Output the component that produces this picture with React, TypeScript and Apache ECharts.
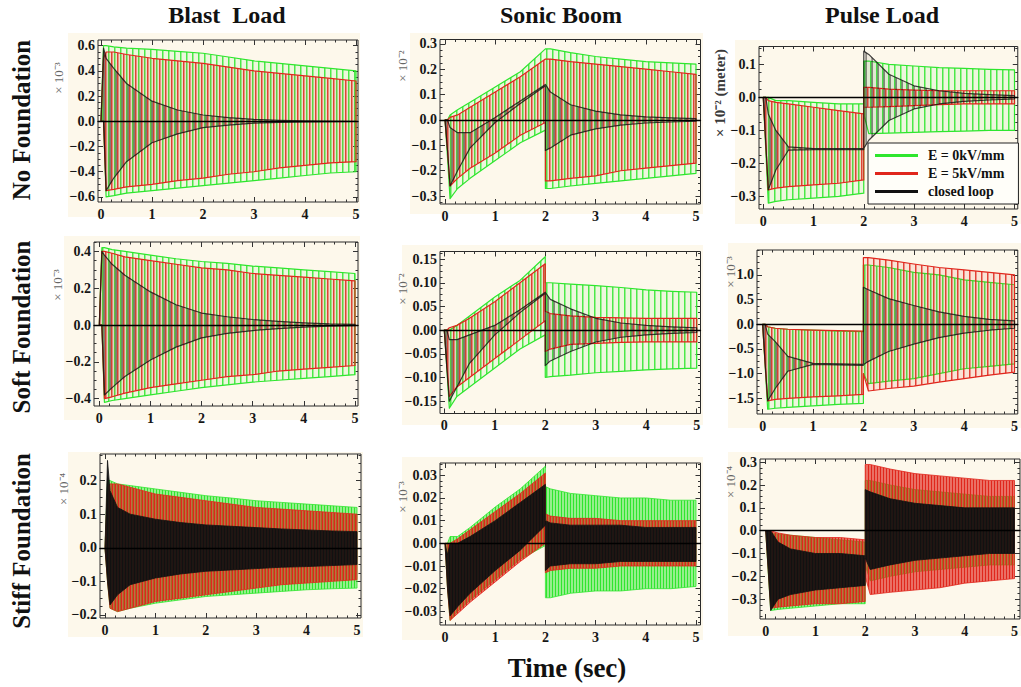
import React, { useEffect, useRef } from 'react';
import * as echarts from 'echarts';

// ---------------- data (amplitudes are envelope peaks) ----------------
const xTickValues = [0, 1, 2, 3, 4, 5];
const timeBlast = [0, 0.05, 0.1, 0.25, 0.5, 1, 1.5, 2, 2.5, 3, 3.5, 4, 4.5, 5];
const timeStep = [0, 0.05, 0.1, 0.25, 0.5, 1, 1.5, 2, 2, 2.1, 2.5, 3, 3.5, 4, 4.5, 5];

// Blast load, no foundation (x 1e-3)
const blastNoGreenHi = [0, 0.6, 0.6, 0.59, 0.58, 0.57, 0.555, 0.54, 0.51, 0.48, 0.46, 0.44, 0.42, 0.4];
const blastNoGreenLo = [0, 0, -0.6, -0.59, -0.57, -0.55, -0.53, -0.51, -0.49, -0.47, -0.45, -0.43, -0.41, -0.4];
const blastNoRedHi = [0, 0.5, 0.55, 0.55, 0.53, 0.5, 0.48, 0.46, 0.43, 0.4, 0.38, 0.36, 0.34, 0.32];
const blastNoRedLo = [0, 0, -0.55, -0.54, -0.52, -0.5, -0.47, -0.45, -0.42, -0.4, -0.37, -0.35, -0.33, -0.32];
const blastNoLoopHi = [0, 0.58, 0.5, 0.42, 0.3, 0.16, 0.09, 0.05, 0.03, 0.015, 0.008, 0.004, 0.002, 0];
const blastNoLoopLo = [0, 0, -0.55, -0.45, -0.32, -0.17, -0.1, -0.05, -0.03, -0.015, -0.008, -0.004, -0.002, 0];

// Blast load, soft foundation (x 1e-3)
const blastSoftGreenHi = [0, 0.42, 0.42, 0.41, 0.4, 0.38, 0.36, 0.345, 0.335, 0.32, 0.31, 0.3, 0.29, 0.28];
const blastSoftGreenLo = [0, 0, -0.42, -0.41, -0.4, -0.38, -0.36, -0.34, -0.325, -0.31, -0.3, -0.29, -0.28, -0.27];
const blastSoftRedHi = [0, 0.4, 0.4, 0.39, 0.37, 0.35, 0.33, 0.31, 0.3, 0.28, 0.27, 0.26, 0.25, 0.24];
const blastSoftRedLo = [0, 0, -0.4, -0.39, -0.37, -0.34, -0.32, -0.3, -0.28, -0.27, -0.25, -0.24, -0.23, -0.22];
const blastSoftLoopHi = [0, 0.4, 0.38, 0.33, 0.27, 0.18, 0.11, 0.065, 0.045, 0.03, 0.02, 0.012, 0.006, 0.004];
const blastSoftLoopLo = [0, 0, -0.38, -0.34, -0.28, -0.19, -0.12, -0.07, -0.045, -0.03, -0.02, -0.012, -0.006, -0.004];

// Blast load, stiff foundation (x 1e-4)
const blastStiffGreenHi = [0, 0.2, 0.2, 0.19, 0.185, 0.175, 0.165, 0.155, 0.148, 0.14, 0.135, 0.13, 0.125, 0.12];
const blastStiffGreenLo = [0, -0.1, -0.18, -0.19, -0.18, -0.165, -0.155, -0.145, -0.14, -0.135, -0.13, -0.125, -0.122, -0.12];
const blastStiffRedHi = [0, 0.18, 0.19, 0.19, 0.18, 0.16, 0.15, 0.14, 0.13, 0.12, 0.115, 0.11, 0.105, 0.1];
const blastStiffRedLo = [0, -0.1, -0.18, -0.19, -0.18, -0.16, -0.15, -0.14, -0.13, -0.12, -0.11, -0.105, -0.1, -0.095];
const blastStiffLoopHi = [0, 0.26, 0.17, 0.12, 0.1, 0.085, 0.075, 0.068, 0.064, 0.06, 0.056, 0.053, 0.05, 0.048];
const blastStiffLoopLo = [0, -0.1, -0.17, -0.14, -0.11, -0.09, -0.078, -0.07, -0.066, -0.062, -0.058, -0.056, -0.053, -0.05];

// Sonic boom, no foundation (x 1e-2)
const sonicNoGreenHi = [0, 0, 0.02, 0.04, 0.07, 0.13, 0.19, 0.28, 0.28, 0.28, 0.265, 0.25, 0.24, 0.23, 0.225, 0.22];
const sonicNoGreenLo = [0, -0.15, -0.31, -0.27, -0.23, -0.16, -0.09, -0.04, -0.27, -0.27, -0.26, -0.25, -0.24, -0.23, -0.22, -0.21];
const sonicNoRedHi = [0, 0, 0.01, 0.02, 0.05, 0.11, 0.17, 0.24, 0.24, 0.24, 0.23, 0.22, 0.21, 0.2, 0.19, 0.18];
const sonicNoRedLo = [0, -0.12, -0.26, -0.23, -0.19, -0.13, -0.06, -0.01, -0.24, -0.24, -0.23, -0.22, -0.2, -0.19, -0.18, -0.17];
const sonicNoLoopHi = [0, 0, -0.03, -0.05, -0.05, 0.01, 0.075, 0.14, 0.14, 0.11, 0.06, 0.035, 0.02, 0.012, 0.008, 0.005];
const sonicNoLoopLo = [0, -0.12, -0.26, -0.2, -0.11, -0.01, 0.065, 0.135, -0.12, -0.11, -0.06, -0.035, -0.02, -0.012, -0.008, -0.005];

// Sonic boom, soft foundation (x 1e-2)
const sonicSoftGreenHi = [0, 0, 0, 0.01, 0.03, 0.07, 0.105, 0.155, 0.1, 0.1, 0.097, 0.094, 0.09, 0.085, 0.082, 0.08];
const sonicSoftGreenLo = [0, -0.08, -0.165, -0.14, -0.12, -0.08, -0.04, -0.01, -0.1, -0.098, -0.095, -0.09, -0.087, -0.084, -0.082, -0.08];
const sonicSoftRedHi = [0, 0, 0.005, 0.01, 0.025, 0.06, 0.1, 0.14, 0.04, 0.035, 0.03, 0.027, 0.026, 0.025, 0.025, 0.025];
const sonicSoftRedLo = [0, -0.07, -0.14, -0.12, -0.1, -0.06, -0.02, 0.02, -0.045, -0.04, -0.03, -0.028, -0.026, -0.025, -0.025, -0.025];
const sonicSoftLoopHi = [0, 0, -0.02, -0.02, -0.01, 0.01, 0.043, 0.08, 0.08, 0.065, 0.045, 0.025, 0.015, 0.01, 0.007, 0.005];
const sonicSoftLoopLo = [0, -0.08, -0.15, -0.12, -0.07, -0.01, 0.037, 0.078, -0.075, -0.065, -0.045, -0.025, -0.015, -0.01, -0.007, -0.005];

// Sonic boom, stiff foundation (x 1e-3)
const sonicStiffGreenHi = [0, 0, 0.003, 0.003, 0.007, 0.016, 0.024, 0.034, 0.025, 0.024, 0.022, 0.021, 0.02, 0.02, 0.019, 0.019];
const sonicStiffGreenLo = [0, -0.02, -0.034, -0.03, -0.025, -0.016, -0.007, -0.001, -0.024, -0.024, -0.022, -0.021, -0.021, -0.02, -0.02, -0.019];
const sonicStiffRedHi = [0, 0, 0, 0.002, 0.006, 0.014, 0.022, 0.031, 0.013, 0.012, 0.011, 0.011, 0.01, 0.01, 0.01, 0.01];
const sonicStiffRedLo = [0, -0.02, -0.034, -0.031, -0.026, -0.017, -0.008, 0, -0.013, -0.012, -0.011, -0.011, -0.01, -0.01, -0.01, -0.01];
const sonicStiffLoopHi = [0, -0.005, 0, 0, 0.003, 0.01, 0.018, 0.026, 0.01, 0.009, 0.008, 0.008, 0.008, 0.007, 0.007, 0.007];
const sonicStiffLoopLo = [0, -0.02, -0.032, -0.028, -0.022, -0.012, -0.003, 0.008, -0.012, -0.01, -0.009, -0.009, -0.008, -0.008, -0.008, -0.008];

// Pulse load, no foundation (x 1e-2 meter)
const pulseNoGreenHi = [0, 0, 0, -0.01, -0.01, -0.015, -0.02, -0.02, 0.11, 0.11, 0.1, 0.095, 0.09, 0.088, 0.085, 0.083];
const pulseNoGreenLo = [0, -0.16, -0.32, -0.315, -0.31, -0.305, -0.3, -0.29, -0.05, -0.11, -0.108, -0.106, -0.104, -0.102, -0.1, -0.1];
const pulseNoRedHi = [0, 0, -0.01, -0.015, -0.02, -0.03, -0.04, -0.05, 0.03, 0.03, 0.025, 0.022, 0.02, 0.02, 0.02, 0.02];
const pulseNoRedLo = [0, -0.14, -0.28, -0.275, -0.27, -0.265, -0.26, -0.25, -0.03, -0.03, -0.028, -0.025, -0.022, -0.02, -0.02, -0.02];
const pulseNoLoopHi = [0, 0, -0.05, -0.1, -0.15, -0.155, -0.155, -0.155, 0.14, 0.13, 0.07, 0.035, 0.02, 0.012, 0.008, 0.005];
const pulseNoLoopLo = [0, -0.14, -0.28, -0.22, -0.16, -0.158, -0.158, -0.158, -0.155, -0.13, -0.07, -0.035, -0.02, -0.012, -0.008, -0.005];

// Pulse load, soft foundation (x 1e-3)
const pulseSoftGreenHi = [0, 0, -0.05, -0.08, -0.1, -0.12, -0.14, -0.15, 1.2, 1.2, 1.15, 1.05, 1.0, 0.9, 0.85, 0.8];
const pulseSoftGreenLo = [0, -0.85, -1.72, -1.7, -1.68, -1.65, -1.62, -1.6, -1.0, -1.2, -1.15, -1.1, -1.0, -0.9, -0.85, -0.8];
const pulseSoftRedHi = [0, 0, -0.05, -0.08, -0.1, -0.12, -0.13, -0.14, 1.35, 1.35, 1.3, 1.22, 1.15, 1.1, 1.05, 1.0];
const pulseSoftRedLo = [0, -0.8, -1.55, -1.52, -1.5, -1.47, -1.45, -1.42, -1.0, -1.35, -1.3, -1.25, -1.17, -1.1, -1.03, -0.97];
const pulseSoftLoopHi = [0, 0, -0.2, -0.35, -0.65, -0.79, -0.8, -0.81, 0.75, 0.7, 0.52, 0.38, 0.25, 0.16, 0.1, 0.07];
const pulseSoftLoopLo = [0, -0.8, -1.55, -1.3, -0.95, -0.81, -0.82, -0.83, -0.82, -0.75, -0.55, -0.4, -0.27, -0.18, -0.12, -0.08];

// Pulse load, stiff foundation (x 1e-4)
const pulseStiffGreenHi = [0, 0, -0.01, -0.015, -0.02, -0.03, -0.04, -0.05, 0.22, 0.22, 0.2, 0.18, 0.17, 0.16, 0.15, 0.15];
const pulseStiffGreenLo = [0, -0.18, -0.35, -0.345, -0.34, -0.33, -0.32, -0.32, -0.15, -0.22, -0.2, -0.18, -0.17, -0.16, -0.15, -0.15];
const pulseStiffRedHi = [0, 0, 0, -0.01, -0.02, -0.03, -0.03, -0.04, 0.29, 0.29, 0.27, 0.25, 0.24, 0.23, 0.22, 0.22];
const pulseStiffRedLo = [0, -0.17, -0.34, -0.335, -0.33, -0.32, -0.32, -0.31, -0.2, -0.28, -0.27, -0.26, -0.25, -0.23, -0.22, -0.21];
const pulseStiffLoopHi = [0, 0, 0, -0.05, -0.08, -0.1, -0.1, -0.11, 0.18, 0.17, 0.14, 0.12, 0.11, 0.1, 0.1, 0.1];
const pulseStiffLoopLo = [0, -0.17, -0.35, -0.3, -0.28, -0.26, -0.25, -0.24, -0.12, -0.17, -0.15, -0.13, -0.12, -0.11, -0.1, -0.1];

// tick labels
const yTicksBlastNo = [-0.6, -0.4, -0.2, 0, 0.2, 0.4, 0.6];
const yTicksSonicNo = [-0.3, -0.2, -0.1, 0, 0.1, 0.2, 0.3];
const yTicksPulseNo = [-0.3, -0.2, -0.1, 0, 0.1];
const yTicksBlastSoft = [-0.4, -0.2, 0, 0.2, 0.4];
const yTicksSonicSoft = [-0.15, -0.1, -0.05, 0, 0.05, 0.1, 0.15];
const yTicksPulseSoft = [-1.5, -1, -0.5, 0, 0.5, 1];
const yTicksBlastStiff = [-0.2, -0.1, 0, 0.1, 0.2];
const yTicksSonicStiff = [-0.03, -0.02, -0.01, 0, 0.01, 0.02, 0.03];
const yTicksPulseStiff = [-0.3, -0.2, -0.1, 0, 0.1, 0.2, 0.3];

const columnTitles = ['Blast  Load', 'Sonic Boom', 'Pulse Load'];
const rowTitles = ['No Foundation', 'Soft Foundation', 'Stiff Foundation'];
const seriesNames = ['E = 0kV/mm', 'E = 5kV/mm', 'closed loop'];
const scaleTexts = ['× 10⁻³', '× 10⁻²', '× 10⁻² (meter)', '× 10⁻³', '× 10⁻²', '× 10⁻³', '× 10⁻⁴', '× 10⁻³', '× 10⁻⁴'];
const xAxisTitle = 'Time (sec)';

const panelData = [
  { t: timeBlast, bands: [[blastNoGreenLo, blastNoGreenHi], [blastNoRedLo, blastNoRedHi], [blastNoLoopLo, blastNoLoopHi]], yTicks: yTicksBlastNo, dec: 1 },
  { t: timeStep, bands: [[sonicNoGreenLo, sonicNoGreenHi], [sonicNoRedLo, sonicNoRedHi], [sonicNoLoopLo, sonicNoLoopHi]], yTicks: yTicksSonicNo, dec: 1 },
  { t: timeStep, bands: [[pulseNoGreenLo, pulseNoGreenHi], [pulseNoRedLo, pulseNoRedHi], [pulseNoLoopLo, pulseNoLoopHi]], yTicks: yTicksPulseNo, dec: 1 },
  { t: timeBlast, bands: [[blastSoftGreenLo, blastSoftGreenHi], [blastSoftRedLo, blastSoftRedHi], [blastSoftLoopLo, blastSoftLoopHi]], yTicks: yTicksBlastSoft, dec: 1 },
  { t: timeStep, bands: [[sonicSoftGreenLo, sonicSoftGreenHi], [sonicSoftRedLo, sonicSoftRedHi], [sonicSoftLoopLo, sonicSoftLoopHi]], yTicks: yTicksSonicSoft, dec: 2 },
  { t: timeStep, bands: [[pulseSoftGreenLo, pulseSoftGreenHi], [pulseSoftRedLo, pulseSoftRedHi], [pulseSoftLoopLo, pulseSoftLoopHi]], yTicks: yTicksPulseSoft, dec: 1 },
  { t: timeBlast, bands: [[blastStiffGreenLo, blastStiffGreenHi], [blastStiffRedLo, blastStiffRedHi], [blastStiffLoopLo, blastStiffLoopHi]], yTicks: yTicksBlastStiff, dec: 1 },
  { t: timeStep, bands: [[sonicStiffGreenLo, sonicStiffGreenHi], [sonicStiffRedLo, sonicStiffRedHi], [sonicStiffLoopLo, sonicStiffLoopHi]], yTicks: yTicksSonicStiff, dec: 2 },
  { t: timeStep, bands: [[pulseStiffGreenLo, pulseStiffGreenHi], [pulseStiffRedLo, pulseStiffRedHi], [pulseStiffLoopLo, pulseStiffLoopHi]], yTicks: yTicksPulseStiff, dec: 1 },
];

// ---------------- layout & style ----------------
const SERIF = '"Liberation Serif", "Times New Roman", serif';
const BEIGE = '#fdf8eb';
const COLORS = ['#2ee62e', '#e0261c', '#111111'];

const layout = [
  { box: [98, 40, 358, 202], xr: [-0.059, 5.039], yr: [-0.64, 0.645], bg: [68, 33, 360, 217], sc: [58, 78] },
  { box: [440, 39.5, 700.5, 204], xr: [-0.1, 5.09], yr: [-0.331, 0.317], bg: [410, 33, 703, 214], sc: [402, 66] },
  { box: [759, 46.5, 1020, 209], xr: [-0.085, 5.065], yr: [-0.338, 0.154], bg: [735, 40, 1021, 224], sc: [720, 93] },
  { box: [94, 242, 358, 406], xr: [-0.104, 5.059], yr: [-0.44, 0.451], bg: [64, 236, 360, 420], sc: [57, 285] },
  { box: [440, 251.5, 700.5, 413.5], xr: [-0.085, 5.075], yr: [-0.176, 0.166], bg: [402, 245, 703, 425], sc: [402, 289] },
  { box: [757, 250, 1020, 414], xr: [-0.112, 5.065], yr: [-1.816, 1.504], bg: [728, 243, 1021, 428], sc: [730, 272] },
  { box: [100, 454, 361, 618], xr: [-0.099, 5.079], yr: [-0.209, 0.279], bg: [68, 452, 363, 637], sc: [63, 489] },
  { box: [440, 463, 700.5, 625], xr: [-0.1, 5.09], yr: [-0.036, 0.0354], bg: [402, 457, 703, 640], sc: [402, 497] },
  { box: [760, 459, 1020.5, 619], xr: [-0.114, 5.11], yr: [-0.387, 0.314], bg: [728, 452, 1021, 636], sc: [730, 482] },
];
const titlePos = [[227, 15], [561, 15], [882, 15]];
const rowPos = [[21, 120], [21, 327], [21, 541]];

// texture imitating the dense oscillation strokes inside each envelope band
function stripe(color: string, x: number, sw: number, w: number, bgAlpha: number, lineAlpha: number) {
  const svg = `<svg xmlns="http://www.w3.org/2000/svg" width="${w}" height="4"><rect width="${w}" height="4" fill="${color}" fill-opacity="${bgAlpha}"/><rect x="${x}" y="0" width="${sw}" height="4" fill="${color}" fill-opacity="${lineAlpha}"/></svg>`;
  return {
    image: 'data:image/svg+xml;charset=utf-8,' + encodeURIComponent(svg),
    repeat: 'repeat',
    imageWidth: w,
    imageHeight: 4,
  };
}
const lightFills = [
  stripe(COLORS[0], 0, 1.5, 6, 0.08, 0.85),
  stripe(COLORS[1], 3, 1.5, 6, 0.1, 0.85),
  stripe(COLORS[2], 1.5, 1.2, 6, 0.06, 0.65),
];
const denseFills = [
  stripe(COLORS[0], 0, 1, 3, 0.5, 1),
  stripe(COLORS[1], 1, 1, 3, 0.65, 1),
  stripe(COLORS[2], 2, 1, 3, 0.92, 1),
];

const fmt = (d: number) => (v: number) => {
  const s = Math.abs(v).toFixed(d);
  return v < -1e-9 ? '\u2212' + s : s;
};

function minorValues(ticks: number[], range: number[], parts: number) {
  const step = (ticks[1] - ticks[0]) / parts;
  const out: number[] = [];
  const start = Math.ceil((range[0] - 1e-9) / step);
  const end = Math.floor((range[1] + 1e-9) / step);
  for (let k = start; k <= end; k++) {
    const v = +(k * step).toFixed(6);
    if (!ticks.some((m) => Math.abs(m - v) < step / 10)) out.push(v);
  }
  return out;
}

function buildOption() {
  const grid: any[] = [];
  const xAxis: any[] = [];
  const yAxis: any[] = [];
  const series: any[] = [];
  const graphic: any[] = [];

  const tickLine = { color: '#333', width: 1 };
  const labelStyle = { fontFamily: SERIF, fontWeight: 'bold', fontSize: 14, color: '#161616' };

  panelData.forEach((p, i) => {
    const L = layout[i];
    const [l, t, r, b] = L.box;
    grid.push({ left: l, top: t, width: r - l, height: b - t, show: true, borderColor: '#2a2a2a', borderWidth: 1, backgroundColor: 'transparent' });
    const xm = { min: L.xr[0], max: L.xr[1] };
    const ym = { min: L.yr[0], max: L.yr[1] };
    const xMinor = minorValues(xTickValues, L.xr, 5);
    const yMinor = minorValues(p.yTicks, L.yr, 4);
    const baseX = { gridIndex: i, type: 'value', ...xm, splitLine: { show: false }, axisLine: { show: false, onZero: false } };
    const baseY = { gridIndex: i, type: 'value', ...ym, splitLine: { show: false }, axisLine: { show: false, onZero: false } };
    xAxis.push({ ...baseX, position: 'bottom', axisTick: { inside: true, length: 5, lineStyle: tickLine, customValues: xTickValues }, axisLabel: { ...labelStyle, margin: 5, customValues: xTickValues, formatter: fmt(0) } });
    xAxis.push({ ...baseX, position: 'top', axisTick: { inside: true, length: 5, lineStyle: tickLine, customValues: xTickValues }, axisLabel: { show: false } });
    xAxis.push({ ...baseX, position: 'bottom', axisTick: { inside: true, length: 2.5, lineStyle: tickLine, customValues: xMinor }, axisLabel: { show: false } });
    xAxis.push({ ...baseX, position: 'top', axisTick: { inside: true, length: 2.5, lineStyle: tickLine, customValues: xMinor }, axisLabel: { show: false } });
    xAxis.push({ gridIndex: i, type: 'value', ...xm, position: 'bottom', z: 10, splitLine: { show: false }, axisTick: { show: false }, axisLabel: { show: false }, axisLine: { show: true, onZero: true, lineStyle: { color: '#000', width: 1.3 } } });
    yAxis.push({ ...baseY, position: 'left', axisTick: { inside: true, length: 5, lineStyle: tickLine, customValues: p.yTicks }, axisLabel: { ...labelStyle, margin: 3, customValues: p.yTicks, formatter: fmt(p.dec) } });
    yAxis.push({ ...baseY, position: 'right', axisTick: { inside: true, length: 5, lineStyle: tickLine, customValues: p.yTicks }, axisLabel: { show: false } });
    yAxis.push({ ...baseY, position: 'left', axisTick: { inside: true, length: 2.5, lineStyle: tickLine, customValues: yMinor }, axisLabel: { show: false } });
    yAxis.push({ ...baseY, position: 'right', axisTick: { inside: true, length: 2.5, lineStyle: tickLine, customValues: yMinor }, axisLabel: { show: false } });

    const row = Math.floor(i / 3);
    p.bands.forEach((band, s) => {
      const [lo, hi] = band;
      const rows = p.t.map((tt, k) => [tt, lo[k], hi[k]]);
      const color = COLORS[s];
      const fill = row < 2 ? lightFills[s] : denseFills[s];
      const lw = row < 2 ? 1.2 : 0.8;
      series.push({
        type: 'custom',
        name: seriesNames[s],
        coordinateSystem: 'cartesian2d',
        xAxisIndex: i * 5,
        yAxisIndex: i * 4,
        clip: true,
        silent: true,
        itemStyle: { color },
        data: rows,
        encode: { x: 0, y: [1, 2] },
        z: 2 + s,
        renderItem: (params: any, api: any) => {
          if (params.dataIndex !== 0) return null;
          const up = rows.map((rw) => api.coord([rw[0], rw[2]]));
          const dn = rows.map((rw) => api.coord([rw[0], rw[1]])).reverse();
          return {
            type: 'polygon',
            shape: { points: up.concat(dn) },
            style: { fill, stroke: color, lineWidth: lw, lineJoin: 'round', strokeOpacity: s === 2 && row < 2 ? 0.8 : 1 },
          };
        },
      });
    });

    const [bl, bt, br, bb] = L.bg;
    graphic.push({ type: 'rect', z: -10, silent: true, shape: { x: bl, y: bt, width: br - bl, height: bb - bt }, style: { fill: BEIGE } });
    const isMeter = i === 2;
    graphic.push({
      type: 'text', x: L.sc[0], y: L.sc[1], rotation: Math.PI / 2, z: 5, silent: true,
      style: {
        text: scaleTexts[i], fill: isMeter ? '#3a3a3a' : '#666',
        font: isMeter ? `bold 15px ${SERIF}` : `13px ${SERIF}`,
        align: 'center', verticalAlign: 'middle', textAlign: 'center', textVerticalAlign: 'middle',
      },
    });
  });

  columnTitles.forEach((txt, c) => {
    graphic.push({ type: 'text', x: titlePos[c][0], y: titlePos[c][1], silent: true, style: { text: txt, font: `bold 24px ${SERIF}`, fill: '#111', align: 'center', verticalAlign: 'middle', textAlign: 'center', textVerticalAlign: 'middle' } });
  });
  rowTitles.forEach((txt, r) => {
    graphic.push({ type: 'text', x: rowPos[r][0], y: rowPos[r][1], rotation: Math.PI / 2, silent: true, style: { text: txt, font: `bold 25px ${SERIF}`, fill: '#111', align: 'center', verticalAlign: 'middle', textAlign: 'center', textVerticalAlign: 'middle' } });
  });
  graphic.push({ type: 'text', x: 567, y: 668, silent: true, style: { text: xAxisTitle, font: `bold 27px ${SERIF}`, fill: '#111', align: 'center', verticalAlign: 'middle', textAlign: 'center', textVerticalAlign: 'middle' } });

  return {
    animation: false,
    backgroundColor: '#ffffff',
    grid,
    xAxis,
    yAxis,
    series,
    graphic,
    legend: {
      left: 868, top: 143, orient: 'vertical', itemWidth: 43, itemHeight: 3, itemGap: 3,
      padding: [5, 14, 5, 7], backgroundColor: '#fffef9', borderColor: '#222', borderWidth: 1, borderRadius: 0,
      selectedMode: false,
      textStyle: { fontFamily: SERIF, fontWeight: 'bold', fontSize: 14, color: '#111', lineHeight: 15, padding: [0, 0, 0, 5] },
      data: seriesNames.map((n, s) => ({ name: n, icon: 'rect', itemStyle: { color: COLORS[s] } })),
    },
  };
}

export default function App() {
  const ref = useRef<HTMLDivElement>(null);
  useEffect(() => {
    if (!ref.current) return;
    const chart = echarts.init(ref.current, undefined, { renderer: 'svg' });
    chart.setOption(buildOption() as any);
    return () => chart.dispose();
  }, []);
  return <div ref={ref} style={{ position: 'absolute', left: 0, top: 0, width: 1021, height: 687 }} />;
}
